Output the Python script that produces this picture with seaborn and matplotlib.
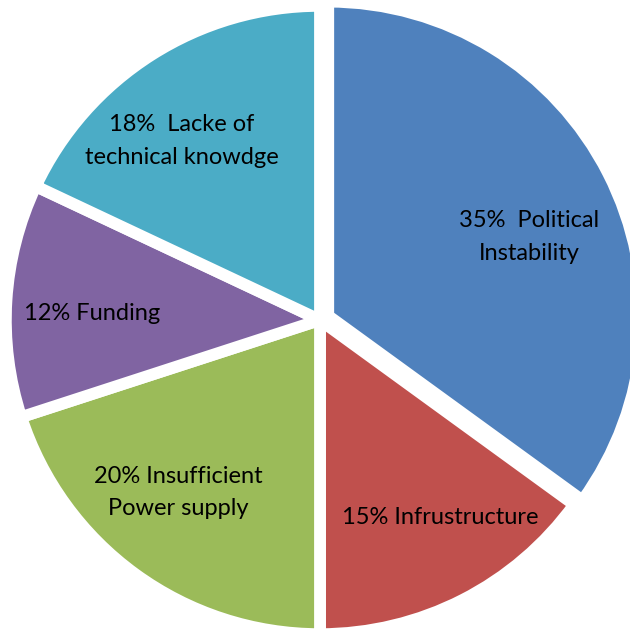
import matplotlib
matplotlib.use("Agg")
import matplotlib.pyplot as plt
import seaborn as sns

# data
categories = ["35%  Political\nInstability", "15% Infrustructure", "20% Insufficient\nPower supply",
              "12% Funding", "18%  Lacke of\ntechnical knowdge"]
shares = [35, 15, 20, 12, 18]
colors = ["#4F81BD", "#C0504D", "#9BBB59", "#8064A2", "#4BACC6"]

sns.set_theme(style="white")
plt.rcParams['font.family'] = ['Lato', 'DejaVu Sans']

fig = plt.figure(figsize=(6.30, 6.29), dpi=100)
ax = fig.add_axes([0, 0, 1, 1])

explode = [0.03, 0, 0, 0, 0]
wedges, _ = ax.pie(shares, colors=sns.color_palette(colors), startangle=90, counterclock=False,
                   explode=explode, radius=1.02,
                   wedgeprops=dict(edgecolor="white", linewidth=8.5))

# label positions (data coords, tuned by eye)
label_pos = [(0.68, 0.27), (0.39, -0.64), (-0.46, -0.56), (-0.74, 0.02), (-0.45, 0.58)]
for txt, (x, y) in zip(categories, label_pos):
    ax.text(x, y, txt, ha="center", va="center", fontsize=17, color="black", linespacing=1.7)

ax.set_xlim(-320 / 308, 310 / 308)
ax.set_ylim(-309 / 308, 320 / 308)
ax.set_aspect("auto")
ax.axis("off")

fig.savefig("out.png", dpi=100)
